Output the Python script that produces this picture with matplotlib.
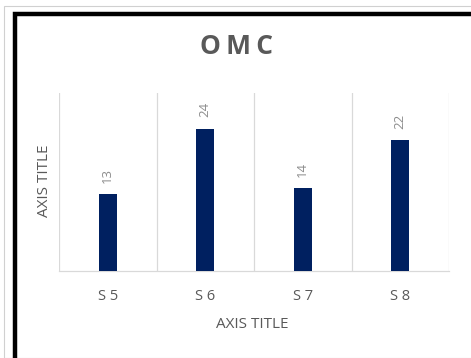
import matplotlib
matplotlib.use('Agg')
import matplotlib.pyplot as plt
from matplotlib.patches import Rectangle

# ---- data ----
categories = ['S 5', 'S 6', 'S 7', 'S 8']
values = [13, 24, 14, 22]
title = 'O\u2009M\u2009C'
x_title = 'AXIS TITLE'
y_title = 'AXIS TITLE'

W, H = 471, 358
BAR_COLOR = '#002060'
TEXT_GRAY = '#595959'
LABEL_GRAY = '#8c8c8c'
GRID_GRAY = '#d9d9d9'

plt.rcParams['font.family'] = ['Open Sans', 'DejaVu Sans']

fig = plt.figure(figsize=(W / 100, H / 100), dpi=100)


def px(x0, y0, x1, y1):
    # pixel box (top-left origin) -> figure fraction [l, b, w, h]
    return [x0 / W, 1 - y1 / H, (x1 - x0) / W, (y1 - y0) / H]


# frames drawn around the chart
fig.patches.append(Rectangle((3.5 / W, 0), 1, 1 - 5.5 / H, transform=fig.transFigure,
                             fill=False, edgecolor='#d0d0d0', linewidth=0.8))
fig.patches.append(Rectangle((15 / W, -0.05), 1, 1.05 - 14.5 / H, transform=fig.transFigure,
                             fill=False, edgecolor='black', linewidth=3.2))

ax = fig.add_axes(px(59, 93, 449, 271))
x = list(range(len(categories)))
ax.bar(x, values, width=0.185, color=BAR_COLOR, zorder=3)

ax.set_xlim(-0.5, len(categories) - 0.5)
ax.set_ylim(0, 30)

# vertical gridlines between categories
for b in [i - 0.5 for i in range(len(categories) + 1)]:
    ax.axvline(b, color=GRID_GRAY, linewidth=0.9, zorder=1)

for s in ['top', 'right', 'left']:
    ax.spines[s].set_visible(False)
ax.spines['bottom'].set_color(GRID_GRAY)
ax.spines['bottom'].set_linewidth(0.9)

ax.set_yticks([])
ax.set_xticks(x)
ax.set_xticklabels(categories, fontsize=10.5, color=TEXT_GRAY)
ax.tick_params(axis='x', length=0, pad=13)

for xi, v in zip(x, values):
    ax.annotate(str(v), (xi, v), xytext=(0, 8), textcoords='offset points',
                rotation=90, ha='center', va='bottom', fontsize=9.5, color=LABEL_GRAY)

fig.text(237 / W, 1 - 46 / H, title, ha='center', va='center',
         fontsize=19, fontweight='bold', color=TEXT_GRAY)
fig.text(252 / W, 1 - 325 / H, x_title, ha='center', va='center',
         fontsize=11, color=TEXT_GRAY)
fig.text(44 / W, 1 - 181 / H, y_title, ha='center', va='center',
         rotation=90, fontsize=11, color=TEXT_GRAY)

fig.savefig('out.png', dpi=100)
